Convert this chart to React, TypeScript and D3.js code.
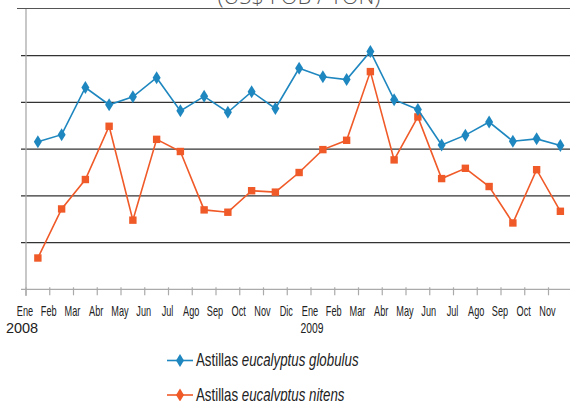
import React from "react";
import * as d3 from "d3";

const months = [
  "Ene", "Feb", "Mar", "Abr", "May", "Jun", "Jul", "Ago", "Sep", "Oct", "Nov", "Dic",
  "Ene", "Feb", "Mar", "Abr", "May", "Jun", "Jul", "Ago", "Sep", "Oct", "Nov",
];
const yearLabels = [
  { index: 0, label: "2008" },
  { index: 12, label: "2009" },
];
const globulus = [
  91.6, 93.1, 103.2, 99.5, 101.2, 105.3, 98.2, 101.3, 97.9, 102.3, 98.7, 107.3,
  105.5, 104.9, 110.9, 100.6, 98.5, 90.9, 93.0, 95.8, 91.7, 92.2, 90.8,
];
const nitens = [
  66.7, 77.2, 83.5, 94.9, 74.8, 92.1, 89.5, 77.0, 76.5, 81.1, 80.8, 85.0,
  89.9, 91.9, 106.6, 87.7, 96.9, 83.7, 85.9, 82.0, 74.2, 85.6, 76.7,
];
const yTicks = [70, 80, 90, 100, 110, 120];
const title = "(US$ FOB / TON)";
const legendItems = [
  { plain: "Astillas ", italic: "eucalyptus globulus", color: "#1f87bf" },
  { plain: "Astillas ", italic: "eucalyptus nitens", color: "#f05a28" },
];

const W = 570;
const H = 401;
const BLUE = "#1f87bf";
const ORANGE = "#f05a28";
const FONT = "'Liberation Sans', Arial, sans-serif";

export default function App() {
  const idx = months.map((_, i) => i);
  const x = d3.scaleBand<number>().domain(idx).range([26, 26 + 23.75 * 23]).padding(0);
  const y = d3.scaleLinear().domain([60, 120]).range([289.3, 9.0]);
  const cx = (i: number) => (x(i) as number) + x.bandwidth() / 2;

  const line = d3
    .line<number>()
    .x((_, i) => cx(i))
    .y((d) => y(d));

  const diamond = (px: number, py: number) =>
    `M${px},${py - 6.5}L${px + 4},${py}L${px},${py + 6.5}L${px - 4},${py}Z`;

  return (
    <svg
      width={W}
      height={H}
      style={{ position: "absolute", left: 0, top: 0, background: "#fff" }}
      fontFamily={FONT}
    >
      {/* title (cut off at top, as in the reference) */}
      <text
        x={299}
        y={3.5}
        textAnchor="middle"
        fontSize={22}
        fontFamily="'Open Sans', sans-serif"
        fontWeight={300}
        fill="#555"
      >
        {title}
      </text>
      <line x1={17} x2={W} y1={8.5} y2={8.5} stroke="#555" strokeWidth={1.2} />

      {/* gridlines */}
      {yTicks.slice(0, -1).map((t) => (
        <line key={t} x1={21} x2={W} y1={y(t)} y2={y(t)} stroke="#333" strokeWidth={1.3} />
      ))}

      {/* y axis */}
      <line x1={26} x2={26} y1={9} y2={296} stroke="#aaa" strokeWidth={1.3} />
      {/* x axis */}
      <line x1={21} x2={W} y1={y(60)} y2={y(60)} stroke="#aaa" strokeWidth={1.3} />
      {idx.map((i) => (
        <line
          key={i}
          x1={x(i) as number}
          x2={x(i) as number}
          y1={y(60) - 2}
          y2={y(60) + 6}
          stroke="#aaa"
          strokeWidth={1.2}
        />
      ))}
      {months.map((m, i) => (
        <text
          key={i}
          transform={`translate(${(x(i) as number) - 1},315.5) scale(0.62,1)`}
          textAnchor="middle"
          fontSize={14.8}
          fill="#222"
        >
          {m}
        </text>
      ))}
      {yearLabels.map((yl, k) => (
        <text
          key={yl.label}
          transform={`translate(${(x(yl.index) as number) + (k === 0 ? -4 : 1)},333) scale(${k === 0 ? 1 : 0.7},1)`}
          textAnchor="middle"
          fontSize={k === 0 ? 14.5 : 14.8}
          fill="#222"
        >
          {yl.label}
        </text>
      ))}

      {/* series */}
      <path d={line(nitens) || ""} fill="none" stroke={ORANGE} strokeWidth={1.6} />
      {nitens.map((v, i) => (
        <rect key={i} x={cx(i) - 3.7} y={y(v) - 3.7} width={7.4} height={7.4} fill={ORANGE} />
      ))}
      <path d={line(globulus) || ""} fill="none" stroke={BLUE} strokeWidth={1.6} />
      {globulus.map((v, i) => (
        <path key={i} d={diamond(cx(i), y(v))} fill={BLUE} />
      ))}

      {/* legend */}
      {legendItems.map((it, k) => {
        const ly = 360.5 + k * 34.5;
        return (
          <g key={k}>
            <line x1={167} x2={193} y1={ly} y2={ly} stroke={it.color} strokeWidth={1.6} />
            <path d={diamond(180, ly)} fill={it.color} />
            <text transform={`translate(196,${ly + 5.5}) scale(0.76,1)`} fontSize={17.5} fill="#222">
              {it.plain}
              <tspan fontStyle="italic">{it.italic}</tspan>
            </text>
          </g>
        );
      })}
    </svg>
  );
}
